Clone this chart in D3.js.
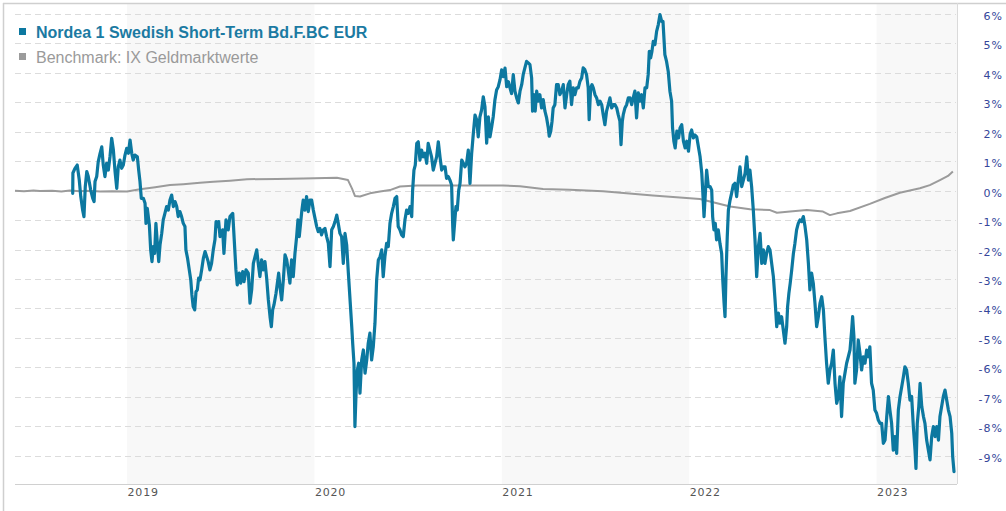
<!DOCTYPE html>
<html><head><meta charset="utf-8">
<script src="https://cdn.jsdelivr.net/npm/d3@7"></script>
<style>body{margin:0;background:#fff}svg{display:block}</style>
</head><body>
<svg id="c" width="1006" height="511"></svg>
<script>
// ---- data (decimal year, % change) ----
const seriesNames = ["Nordea 1 Swedish Short-Term Bd.F.BC EUR", "Benchmark: IX Geldmarktwerte"];
const xTickYears = [2019, 2020, 2021, 2022, 2023];
const yTickValues = [6,5,4,3,2,1,0,-1,-2,-3,-4,-5,-6,-7,-8,-9];
const shadedYears = [2019, 2021, 2023];
const xDomain = [2018.402, 2023.429];

const fund = [[2018.710,-0.09],[2018.711,0.60],[2018.722,0.76],[2018.734,0.87],[2018.745,0.36],[2018.753,-0.20],[2018.763,-0.66],[2018.770,-0.88],[2018.777,0.14],[2018.785,0.65],[2018.793,0.48],[2018.806,0.02],[2018.817,-0.26],[2018.824,-0.37],[2018.829,0.31],[2018.838,0.48],[2018.846,0.98],[2018.856,1.27],[2018.865,1.49],[2018.873,0.87],[2018.882,0.48],[2018.891,0.93],[2018.900,0.70],[2018.909,1.16],[2018.918,1.78],[2018.927,1.38],[2018.936,0.65],[2018.945,0.08],[2018.953,0.81],[2018.962,1.04],[2018.971,0.76],[2018.980,0.87],[2018.989,1.21],[2018.998,1.44],[2019.007,1.27],[2019.016,1.72],[2019.025,1.27],[2019.033,1.04],[2019.042,1.21],[2019.055,1.15],[2019.062,0.70],[2019.069,0.31],[2019.076,-0.26],[2019.087,-0.26],[2019.096,-0.43],[2019.101,-1.11],[2019.108,-0.60],[2019.119,-1.16],[2019.126,-2.01],[2019.133,-2.41],[2019.140,-1.90],[2019.147,-2.13],[2019.154,-1.11],[2019.161,-1.73],[2019.169,-2.41],[2019.176,-1.84],[2019.185,-1.45],[2019.193,-0.99],[2019.202,-0.77],[2019.211,-0.54],[2019.220,-0.66],[2019.229,-0.32],[2019.238,-0.15],[2019.247,-0.54],[2019.256,-0.37],[2019.265,-0.54],[2019.273,-0.88],[2019.282,-0.71],[2019.291,-0.88],[2019.300,-1.11],[2019.309,-1.22],[2019.314,-2.01],[2019.323,-2.30],[2019.332,-2.69],[2019.340,-3.03],[2019.346,-3.54],[2019.353,-3.94],[2019.361,-4.05],[2019.368,-3.43],[2019.375,-3.37],[2019.382,-2.97],[2019.389,-3.03],[2019.398,-2.69],[2019.407,-2.30],[2019.416,-2.07],[2019.425,-2.24],[2019.433,-2.41],[2019.442,-2.69],[2019.451,-2.47],[2019.460,-2.01],[2019.469,-1.67],[2019.475,-1.05],[2019.482,-1.22],[2019.489,-1.05],[2019.496,-1.56],[2019.510,-1.33],[2019.517,-2.13],[2019.528,-0.99],[2019.540,-1.33],[2019.549,-0.88],[2019.564,-0.77],[2019.571,-1.56],[2019.581,-2.69],[2019.588,-3.20],[2019.599,-2.80],[2019.606,-3.14],[2019.617,-2.75],[2019.624,-3.09],[2019.635,-2.69],[2019.647,-2.80],[2019.656,-3.82],[2019.665,-3.37],[2019.674,-2.47],[2019.683,-2.24],[2019.692,-2.01],[2019.700,-2.47],[2019.709,-2.92],[2019.718,-2.35],[2019.727,-2.69],[2019.736,-2.41],[2019.745,-2.97],[2019.754,-3.71],[2019.763,-4.28],[2019.770,-4.62],[2019.777,-4.05],[2019.784,-3.88],[2019.795,-3.48],[2019.802,-3.14],[2019.809,-2.80],[2019.816,-3.26],[2019.825,-3.71],[2019.834,-3.03],[2019.843,-2.18],[2019.852,-2.35],[2019.860,-2.69],[2019.869,-3.14],[2019.878,-2.35],[2019.887,-2.92],[2019.896,-2.13],[2019.905,-1.56],[2019.912,-0.99],[2019.919,-1.56],[2019.926,-1.11],[2019.933,-0.66],[2019.940,-0.32],[2019.949,-0.66],[2019.958,-0.20],[2019.967,-0.71],[2019.976,-0.32],[2019.985,-0.32],[2019.994,-0.66],[2020.003,-0.94],[2020.012,-1.22],[2020.020,-1.39],[2020.029,-1.28],[2020.038,-1.50],[2020.047,-1.33],[2020.056,-1.28],[2020.065,-1.56],[2020.074,-1.79],[2020.083,-2.58],[2020.092,-1.33],[2020.101,-1.22],[2020.110,-1.05],[2020.119,-0.83],[2020.127,-1.11],[2020.136,-1.45],[2020.145,-1.56],[2020.154,-2.47],[2020.163,-1.45],[2020.172,-1.84],[2020.181,-2.80],[2020.190,-3.71],[2020.199,-4.62],[2020.204,-5.18],[2020.211,-5.86],[2020.216,-8.01],[2020.222,-6.88],[2020.229,-6.09],[2020.236,-5.86],[2020.243,-6.88],[2020.252,-5.75],[2020.261,-5.41],[2020.270,-6.20],[2020.279,-5.75],[2020.287,-5.18],[2020.296,-4.84],[2020.305,-5.75],[2020.314,-5.30],[2020.323,-4.50],[2020.332,-3.03],[2020.341,-2.35],[2020.350,-2.24],[2020.359,-2.01],[2020.367,-2.92],[2020.376,-2.24],[2020.385,-1.79],[2020.394,-1.90],[2020.403,-1.11],[2020.412,-0.77],[2020.421,-0.54],[2020.430,-0.26],[2020.439,-0.20],[2020.447,-1.22],[2020.456,-1.33],[2020.465,-1.50],[2020.474,-1.56],[2020.483,-0.99],[2020.492,-0.66],[2020.501,-0.77],[2020.510,-0.54],[2020.519,-0.88],[2020.524,0.02],[2020.531,0.70],[2020.538,0.87],[2020.546,1.61],[2020.554,1.66],[2020.563,1.04],[2020.572,1.38],[2020.581,1.15],[2020.590,1.27],[2020.599,0.93],[2020.607,1.61],[2020.616,1.38],[2020.625,1.15],[2020.634,0.70],[2020.643,0.93],[2020.652,1.15],[2020.661,1.66],[2020.670,1.15],[2020.679,0.70],[2020.688,0.81],[2020.697,0.81],[2020.705,0.42],[2020.714,0.48],[2020.723,0.36],[2020.732,0.19],[2020.738,-1.22],[2020.741,-1.67],[2020.748,-1.11],[2020.755,-0.54],[2020.762,-0.66],[2020.770,0.02],[2020.777,0.25],[2020.786,1.04],[2020.795,0.93],[2020.803,0.81],[2020.812,0.93],[2020.821,1.38],[2020.830,0.25],[2020.839,1.27],[2020.848,1.95],[2020.857,2.57],[2020.866,2.40],[2020.874,1.83],[2020.883,2.51],[2020.892,2.74],[2020.901,3.19],[2020.910,2.85],[2020.919,1.61],[2020.928,2.51],[2020.937,1.83],[2020.946,2.17],[2020.954,2.51],[2020.963,3.08],[2020.972,3.42],[2020.981,3.53],[2020.990,3.76],[2020.999,4.10],[2021.008,3.87],[2021.017,4.16],[2021.026,3.53],[2021.035,3.70],[2021.043,3.50],[2021.052,3.30],[2021.061,3.94],[2021.070,3.38],[2021.079,3.15],[2021.088,2.98],[2021.097,3.38],[2021.106,3.60],[2021.114,3.94],[2021.123,4.17],[2021.132,4.39],[2021.141,4.34],[2021.150,4.28],[2021.159,3.83],[2021.164,2.70],[2021.171,3.26],[2021.178,2.70],[2021.186,3.38],[2021.194,3.04],[2021.203,3.26],[2021.212,2.81],[2021.221,3.09],[2021.230,2.70],[2021.239,2.47],[2021.248,2.13],[2021.253,1.85],[2021.261,2.02],[2021.268,2.36],[2021.274,2.81],[2021.283,2.92],[2021.292,3.60],[2021.301,3.60],[2021.310,3.26],[2021.319,3.38],[2021.328,3.60],[2021.337,2.81],[2021.346,3.26],[2021.354,3.60],[2021.363,3.72],[2021.372,2.92],[2021.381,3.49],[2021.390,3.26],[2021.399,3.49],[2021.408,3.49],[2021.417,3.72],[2021.426,3.83],[2021.434,4.17],[2021.443,4.11],[2021.452,3.94],[2021.461,3.49],[2021.466,2.41],[2021.474,3.49],[2021.481,3.60],[2021.488,3.49],[2021.497,3.26],[2021.506,3.15],[2021.515,2.92],[2021.524,3.04],[2021.533,2.92],[2021.541,2.58],[2021.550,2.24],[2021.559,2.70],[2021.568,2.92],[2021.577,3.15],[2021.586,2.81],[2021.595,2.92],[2021.604,2.92],[2021.613,2.81],[2021.621,2.58],[2021.630,2.36],[2021.636,1.56],[2021.643,2.36],[2021.648,2.58],[2021.657,2.81],[2021.666,2.92],[2021.675,3.15],[2021.684,3.15],[2021.693,2.92],[2021.701,3.15],[2021.710,3.38],[2021.719,2.47],[2021.728,3.32],[2021.737,3.04],[2021.746,3.26],[2021.755,2.81],[2021.764,3.49],[2021.773,3.49],[2021.781,3.94],[2021.787,4.73],[2021.794,4.51],[2021.801,4.73],[2021.808,5.07],[2021.817,4.96],[2021.826,5.41],[2021.835,5.64],[2021.844,5.98],[2021.853,5.75],[2021.860,5.75],[2021.865,5.19],[2021.870,4.62],[2021.879,4.39],[2021.888,4.05],[2021.897,3.38],[2021.906,3.04],[2021.911,2.13],[2021.918,1.68],[2021.925,1.45],[2021.934,2.02],[2021.943,1.79],[2021.951,2.13],[2021.960,2.24],[2021.969,1.68],[2021.978,1.45],[2021.987,1.68],[2021.996,1.34],[2022.005,1.92],[2022.013,2.06],[2022.022,1.79],[2022.031,1.89],[2022.040,1.83],[2022.049,1.49],[2022.058,1.15],[2022.067,0.59],[2022.072,0.02],[2022.079,-0.88],[2022.085,-0.20],[2022.093,0.70],[2022.102,0.14],[2022.111,0.14],[2022.120,0.02],[2022.125,-0.88],[2022.132,-1.33],[2022.139,-1.11],[2022.146,-1.67],[2022.155,-1.33],[2022.164,-1.79],[2022.173,-2.13],[2022.179,-3.03],[2022.186,-3.82],[2022.191,-4.28],[2022.196,-2.92],[2022.203,-1.56],[2022.209,-0.66],[2022.218,-0.32],[2022.226,-0.09],[2022.235,0.19],[2022.244,0.25],[2022.253,-0.20],[2022.262,0.36],[2022.271,0.81],[2022.280,0.14],[2022.289,0.36],[2022.298,0.59],[2022.307,1.15],[2022.316,0.36],[2022.324,0.70],[2022.333,0.14],[2022.342,-0.66],[2022.351,-1.67],[2022.360,-2.92],[2022.369,-1.90],[2022.378,-1.45],[2022.387,-2.47],[2022.396,-2.01],[2022.404,-2.47],[2022.413,-2.13],[2022.422,-1.90],[2022.431,-2.01],[2022.440,-2.47],[2022.449,-2.92],[2022.458,-3.71],[2022.467,-4.62],[2022.476,-4.16],[2022.484,-4.50],[2022.493,-4.28],[2022.502,-4.73],[2022.511,-5.18],[2022.520,-4.62],[2022.525,-3.94],[2022.532,-3.48],[2022.539,-3.14],[2022.547,-2.69],[2022.556,-2.13],[2022.564,-1.79],[2022.573,-1.33],[2022.582,-1.11],[2022.591,-0.99],[2022.600,-1.05],[2022.609,-0.88],[2022.618,-1.22],[2022.627,-1.67],[2022.636,-2.47],[2022.644,-3.37],[2022.653,-2.80],[2022.662,-3.14],[2022.671,-3.82],[2022.680,-4.62],[2022.689,-4.28],[2022.698,-3.82],[2022.707,-3.60],[2022.716,-4.05],[2022.724,-4.96],[2022.733,-5.86],[2022.742,-6.54],[2022.751,-6.09],[2022.760,-5.86],[2022.769,-5.41],[2022.778,-6.54],[2022.787,-7.22],[2022.796,-6.99],[2022.804,-6.32],[2022.813,-7.67],[2022.822,-6.54],[2022.831,-6.20],[2022.840,-5.86],[2022.849,-5.64],[2022.858,-5.41],[2022.867,-4.73],[2022.872,-4.28],[2022.879,-4.96],[2022.884,-6.54],[2022.893,-6.09],[2022.902,-5.07],[2022.911,-5.52],[2022.920,-6.09],[2022.929,-5.64],[2022.938,-5.86],[2022.947,-5.41],[2022.955,-5.64],[2022.964,-5.30],[2022.973,-6.54],[2022.982,-6.77],[2022.991,-7.45],[2023.000,-7.56],[2023.009,-7.79],[2023.018,-7.90],[2023.027,-7.90],[2023.036,-8.58],[2023.045,-8.47],[2023.054,-7.67],[2023.063,-6.99],[2023.071,-7.45],[2023.080,-7.90],[2023.089,-8.81],[2023.098,-8.35],[2023.107,-8.92],[2023.116,-7.45],[2023.125,-6.99],[2023.134,-6.66],[2023.143,-6.32],[2023.151,-5.98],[2023.160,-6.09],[2023.169,-6.54],[2023.178,-7.11],[2023.187,-6.99],[2023.196,-8.01],[2023.205,-8.81],[2023.210,-9.43],[2023.217,-7.90],[2023.225,-7.33],[2023.232,-6.54],[2023.241,-7.33],[2023.250,-7.67],[2023.258,-7.90],[2023.267,-8.47],[2023.276,-8.81],[2023.285,-9.14],[2023.294,-8.35],[2023.303,-8.01],[2023.312,-8.35],[2023.321,-8.01],[2023.330,-8.47],[2023.338,-7.67],[2023.347,-7.33],[2023.356,-6.99],[2023.365,-6.77],[2023.374,-7.11],[2023.383,-7.45],[2023.392,-7.67],[2023.401,-8.24],[2023.406,-9.03],[2023.413,-9.54]];

const bench = [[2018.402,0.00],[2018.450,-0.02],[2018.500,0.01],[2018.535,-0.01],[2018.600,0.00],[2018.650,-0.03],[2018.695,0.01],[2018.750,-0.02],[2018.800,0.00],[2018.856,-0.03],[2018.920,-0.02],[2019.000,-0.03],[2019.069,0.05],[2019.150,0.12],[2019.229,0.19],[2019.300,0.22],[2019.389,0.27],[2019.460,0.30],[2019.549,0.34],[2019.640,0.39],[2019.800,0.40],[2019.939,0.41],[2020.120,0.44],[2020.179,0.36],[2020.200,0.08],[2020.216,-0.18],[2020.243,-0.20],[2020.296,-0.09],[2020.350,-0.03],[2020.403,0.02],[2020.456,0.14],[2020.547,0.18],[2020.800,0.18],[2021.006,0.18],[2021.097,0.15],[2021.220,0.06],[2021.363,0.03],[2021.540,-0.02],[2021.806,-0.16],[2022.057,-0.28],[2022.111,-0.37],[2022.218,-0.54],[2022.324,-0.63],[2022.431,-0.66],[2022.468,-0.75],[2022.538,-0.71],[2022.628,-0.66],[2022.714,-0.71],[2022.751,-0.83],[2022.788,-0.77],[2022.858,-0.69],[2022.964,-0.45],[2023.044,-0.25],[2023.124,-0.07],[2023.231,0.08],[2023.284,0.19],[2023.338,0.36],[2023.381,0.50],[2023.407,0.65]];

// ---- drawing ----
const W = 1006, H = 511;
const plotL = 15, plotR = 957, plotT = 3, plotB = 484;
const svg = d3.select("#c");
const x = d3.scaleLinear().domain(xDomain).range([plotL, plotR]);
const y = d3.scaleLinear().domain([-9, 6]).range([455.7, 14]);

// shaded year bands
svg.append("g").selectAll("rect").data(shadedYears).join("rect")
  .attr("x", d => x(d))
  .attr("y", plotT)
  .attr("width", d => Math.min(x(d + 1), plotR) - x(d))
  .attr("height", plotB - plotT)
  .attr("fill", "#f8f8f8");

// gridlines
svg.append("g").selectAll("line").data(yTickValues).join("line")
  .attr("x1", plotL).attr("x2", plotR - 1)
  .attr("y1", d => Math.round(y(d)) + 0.5).attr("y2", d => Math.round(y(d)) + 0.5)
  .attr("stroke", "#dcdcdc").attr("stroke-width", 1)
  .attr("stroke-dasharray", "6,4");

// frame
svg.append("line").attr("x1", 3.5).attr("x2", 3.5).attr("y1", 3).attr("y2", H).attr("stroke", "#cfcfcf").attr("stroke-width", 1.5);
svg.append("line").attr("x1", 3).attr("x2", W).attr("y1", 3.5).attr("y2", 3.5).attr("stroke", "#cfcfcf").attr("stroke-width", 1.5);
svg.append("line").attr("x1", plotR + 0.5).attr("x2", plotR + 0.5).attr("y1", plotT).attr("y2", plotB).attr("stroke", "#dadada");
svg.append("line").attr("x1", plotL).attr("x2", plotR).attr("y1", plotB + 0.5).attr("y2", plotB + 0.5).attr("stroke", "#d0d0d0");

// lines
const line = d3.line().x(d => x(d[0])).y(d => y(d[1]));
svg.append("path").datum(bench).attr("d", line)
  .attr("fill", "none").attr("stroke", "#9b9b9b").attr("stroke-width", 2).attr("stroke-linejoin", "round");
svg.append("path").datum(fund).attr("d", line)
  .attr("fill", "none").attr("stroke", "#0c78a0").attr("stroke-width", 3.2).attr("stroke-linejoin", "round").attr("stroke-linecap", "round");

// axes
const yAxis = d3.axisLeft(y).tickValues(yTickValues).tickSize(0).tickPadding(0).tickFormat(d => d + "%");
const gy = svg.append("g").attr("transform", "translate(1003,0)").call(yAxis);
gy.select(".domain").remove();
gy.selectAll("text").attr("dy", "5.5").attr("fill", "#34469a")
  .style("font-family", "'DejaVu Sans', Verdana, sans-serif").style("font-size", "11px").style("letter-spacing", "1px");

const xAxis = d3.axisBottom(x).tickValues(xTickYears).tickSize(0).tickFormat(d3.format("d"));
const gx = svg.append("g").attr("transform", `translate(0,${plotB})`).call(xAxis);
gx.select(".domain").remove();
gx.selectAll("text").attr("y", 12).attr("dy", 0).attr("text-anchor", "start").attr("fill", "#555")
  .style("font-family", "'DejaVu Sans', Verdana, sans-serif").style("font-size", "11px").style("letter-spacing", "0.8px");

// legend
const legColors = ["#0c78a0", "#9b9b9b"];
const legText = ["#1b7aa2", "#9a9a9a"];
const leg = svg.append("g").selectAll("g").data(seriesNames).join("g")
  .attr("transform", (d, i) => `translate(19,${28 + i * 25})`);
leg.append("rect").attr("width", 7).attr("height", 7).attr("fill", (d, i) => legColors[i]);
leg.append("text").attr("x", 17).attr("y", 9.5).text(d => d)
  .attr("fill", (d, i) => legText[i])
  .style("font-family", "'Liberation Sans', Arial, sans-serif").style("font-size", "16px")
  .style("font-weight", (d, i) => i === 0 ? "bold" : "normal");
</script>
</body></html>
